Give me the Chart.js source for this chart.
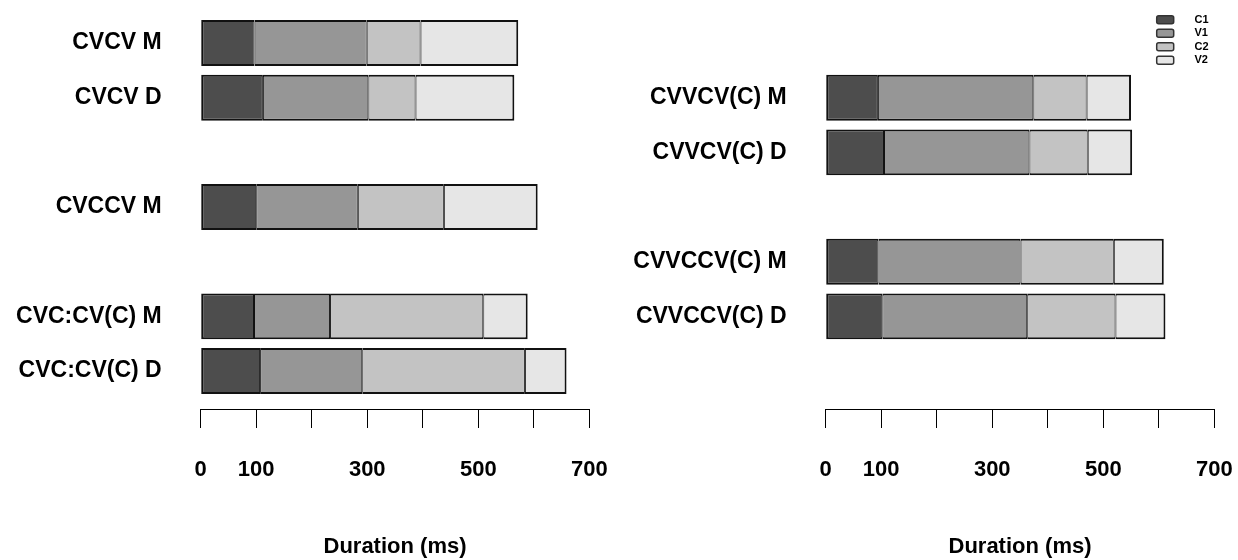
<!DOCTYPE html>
<html><head><meta charset="utf-8">
<script src="https://cdn.jsdelivr.net/npm/chart.js@4.4.0/dist/chart.umd.min.js"></script>
<style>
html,body{margin:0;padding:0;background:#fff;width:1238px;height:560px;overflow:hidden}
#left{position:absolute;left:0;top:0}
#right{position:absolute;left:619px;top:0}
</style>
</head><body>
<canvas id="left" width="619" height="560"></canvas>
<canvas id="right" width="619" height="560"></canvas>
<script>
// ---- data ----
const segmentNames = ['C1', 'V1', 'C2', 'V2'];
const segmentColors = ['#4D4D4D', '#969696', '#C3C3C3', '#E6E6E6'];

const leftCategories = ['CVCV M', 'CVCV D', '', 'CVCCV M', '', 'CVC:CV(C) M', 'CVC:CV(C) D'];
const leftC1 = [97, 112, null, 100, null, 96, 107];
const leftV1 = [202, 190, null, 183, null, 137, 184];
const leftC2 = [97, 85, null, 155, null, 276, 293];
const leftV2 = [176, 178, null, 169, null, 80, 75];

const rightCategories = ['', 'CVVCV(C) M', 'CVVCV(C) D', '', 'CVVCCV(C) M', 'CVVCCV(C) D', ''];
const rightC1 = [null, 94, 105, null, 95, 102, null];
const rightV1 = [null, 280, 262, null, 256, 261, null];
const rightC2 = [null, 96, 105, null, 168, 159, null];
const rightV2 = [null, 80, 80, null, 90, 90, null];

const xTickValues = [0, 100, 200, 300, 400, 500, 600, 700];
const xTickLabels = ['0', '100', '', '300', '', '500', '', '700'];
const axisTitle = 'Duration (ms)';

// ---- chart ----
Chart.defaults.font.family = "'Liberation Sans', Arial, sans-serif";
Chart.defaults.color = '#000';

const legendPlacer = {
  id: 'legendPlacer',
  afterLayout(chart, args, opts) {
    const lg = chart.legend;
    if (!lg || !lg.options.display || !opts.left) return;
    lg.left = opts.left; lg.top = opts.top;
    lg.width = 80; lg.height = 70;
    lg.right = lg.left + lg.width; lg.bottom = lg.top + lg.height;
  }
};

function buildData(series) {
  const out = [];
  series.forEach((v, r) => { if (v !== null) out.push({x: v, y: r + 1}); });
  return out;
}

function makeChart(id, categories, series, opts) {
  const last = segmentNames.length - 1;
  const datasets = segmentNames.map((name, k) => ({
    label: name,
    data: buildData(series[k]),
    backgroundColor: segmentColors[k],
    borderColor: '#111',
    borderWidth: {top: 2, bottom: 2, left: k === 0 ? 2 : 1, right: k === last ? 2 : 1},
    borderSkipped: false,
    barPercentage: 0.84,
    categoryPercentage: 1.0
  }));
  const rows = categories.map((c, i) => i + 1);
  return new Chart(document.getElementById(id), {
    type: 'bar',
    data: {datasets},
    options: {
      indexAxis: 'y',
      responsive: false,
      animation: false,
      layout: {padding: {left: 0, top: 15.7, right: opts.padRight, bottom: 0}},
      plugins: {
        tooltip: {enabled: false},
        legend: {
          display: opts.legend,
          position: 'chartArea',
          align: 'start',
          labels: {
            boxWidth: 17, boxHeight: 8, padding: 2.5,
            useBorderRadius: true, borderRadius: 2,
            font: {size: 11, weight: 'bold'},
            generateLabels: (chart) => chart.data.datasets.map((ds, i) => ({
              text: '     ' + ds.label,
              fillStyle: ds.backgroundColor,
              strokeStyle: '#333',
              lineWidth: 1.5,
              hidden: false,
              datasetIndex: i,
              fontColor: '#000',
              borderRadius: 2
            }))
          }
        },
        legendPlacer: opts.legend ? {left: 535.2, top: 11.7} : {}
      },
      scales: {
        x: {
          type: 'linear', min: 0, max: 700, stacked: true,
          afterBuildTicks: (s) => { s.ticks = xTickValues.map(v => ({value: v})); },
          afterFit: (s) => { s.height = 151; s.paddingLeft = 0; s.paddingRight = 0; },
          ticks: {
            autoSkip: false, maxRotation: 0, padding: 29,
            font: {size: 22, weight: 'bold'}, color: '#000',
            callback: (v) => xTickLabels[xTickValues.indexOf(v)] ?? ''
          },
          grid: {display: true, drawOnChartArea: false, drawTicks: true, tickLength: 19, color: '#000', lineWidth: 1},
          border: {display: true, color: '#000', width: 1},
          title: {display: true, text: axisTitle, font: {size: 22, weight: 'bold'}, color: '#000', padding: {top: 0, bottom: 0}}
        },
        y: {
          type: 'linear', reverse: true, min: 0.5, max: 7.694, stacked: true,
          offset: false,
          afterBuildTicks: (s) => { s.ticks = rows.map(v => ({value: v})); },
          afterFit: (s) => { s.width = opts.yWidth; s.paddingTop = 0; s.paddingBottom = 0; },
          ticks: {
            autoSkip: false, padding: 39,
            font: {size: 23, weight: 'bold'}, color: '#000',
            callback: (v) => categories[v - 1] ?? ''
          },
          grid: {display: false, drawTicks: false, offset: false},
          border: {display: false}
        }
      }
    },
    plugins: [legendPlacer]
  });
}

makeChart('left', leftCategories, [leftC1, leftV1, leftC2, leftV2], {legend: false, padRight: 29.7, yWidth: 200.7});
makeChart('right', rightCategories, [rightC1, rightV1, rightC2, rightV2], {legend: true, padRight: 23.7, yWidth: 206.7});
</script>
</body></html>
